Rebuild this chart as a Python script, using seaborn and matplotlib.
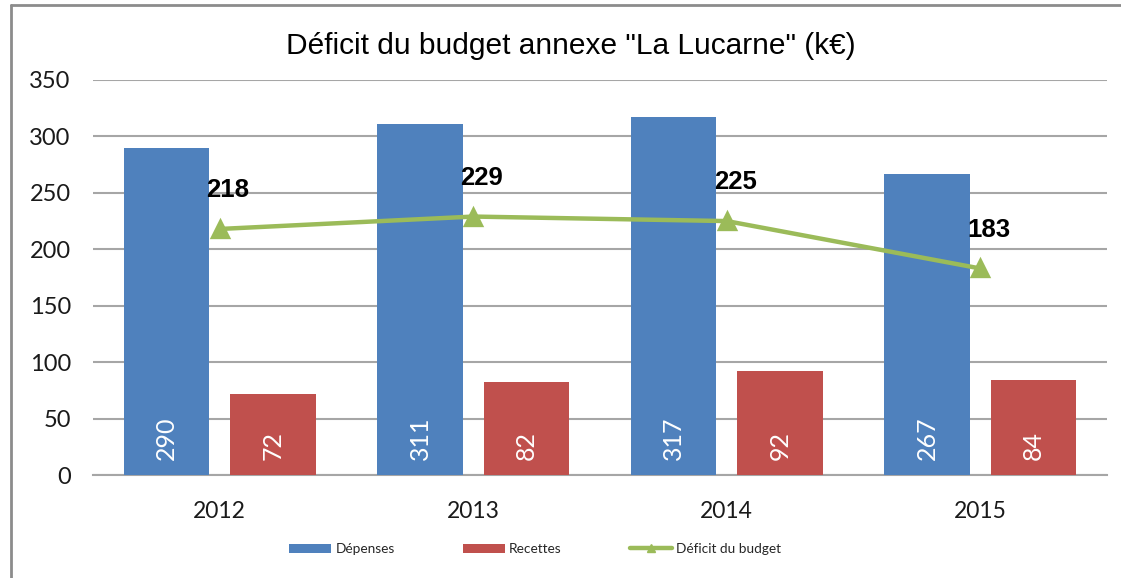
import matplotlib
matplotlib.use("Agg")
import matplotlib.pyplot as plt
import seaborn as sns
import pandas as pd
from matplotlib.lines import Line2D
from matplotlib.patches import Patch

years = ["2012", "2013", "2014", "2015"]
depenses = [290, 311, 317, 267]
recettes = [72, 82, 92, 84]
deficit = [218, 229, 225, 183]
series_names = ["Dépenses", "Recettes", "Déficit du budget"]
yticks = [0, 50, 100, 150, 200, 250, 300, 350]

blue = "#4F81BD"
red = "#C0504D"
green = "#9BBB59"
grid = "#A6A6A6"

sns.set_theme(style="white")
plt.rcParams["font.family"] = ["Lato", "DejaVu Sans"]

df = pd.DataFrame({
    "year": years * 2,
    "value": depenses + recettes,
    "serie": [series_names[0]] * 4 + [series_names[1]] * 4,
})

fig = plt.figure(figsize=(11.21, 5.78), dpi=100)
ax = fig.add_axes([93 / 1121, 1 - 475 / 578, (1107 - 93) / 1121, (475 - 80) / 578])

sns.barplot(data=df, x="year", y="value", hue="serie", order=years,
            hue_order=series_names[:2], palette=[blue, red],
            width=0.84, gap=0.2, saturation=1, legend=False, ax=ax,
            edgecolor="none", linewidth=0, zorder=3)

sns.pointplot(x=years, y=deficit, order=years, color=green, markers="^",
              markersize=11, linewidth=3.2, ax=ax, zorder=5)

# bar labels (white, rotated, inside base)
for cont in ax.containers:
    for rect, v in zip(cont.patches, cont.datavalues):
        ax.annotate(f"{int(v)}", (rect.get_x() + rect.get_width() / 2, 0),
                    xytext=(0, 11), textcoords="offset points",
                    rotation=90, ha="center", va="bottom",
                    color="white", fontsize=18, zorder=6)

# deficit labels
for i, v in enumerate(deficit):
    ax.annotate(f"{v}", (i, v), xytext=(6, 28), textcoords="offset points",
                ha="center", va="center", fontsize=18.5, fontweight="bold",
                family=["Liberation Sans", "DejaVu Sans"], color="black", zorder=7)

ax.set_ylim(0, 350)
ax.set_xlim(-0.5, 3.5)
ax.set_yticks(yticks)
ax.set_yticklabels([str(t) for t in yticks])
ax.yaxis.grid(True, color=grid, linewidth=1.5, zorder=0)
ax.set_axisbelow(True)
for s in ["left", "right", "top"]:
    ax.spines[s].set_visible(False)
ax.spines["bottom"].set_color(grid)
ax.spines["bottom"].set_linewidth(1.5)
ax.tick_params(axis="y", length=0, pad=16, labelsize=17, labelcolor="#1a1a1a")
ax.tick_params(axis="x", length=0, pad=19, labelsize=16.5, labelcolor="#1a1a1a")
ax.set_xlabel("")
ax.set_ylabel("")

fig.text(571 / 1121, 1 - 46 / 578, 'Déficit du budget annexe "La Lucarne" (k€)',
         ha="center", va="center", fontsize=21.5,
         family=["Liberation Sans", "DejaVu Sans"], color="black")

handles = [Patch(facecolor=blue, edgecolor="none"),
           Patch(facecolor=red, edgecolor="none"),
           Line2D([0], [0], color=green, lw=3.2, marker="^", markersize=6)]
fig.legend(handles, series_names, loc="center", bbox_to_anchor=(535 / 1121, 1 - 549 / 578),
           ncol=3, frameon=False, fontsize=9.8, handlelength=3.1, handleheight=0.6,
           handletextpad=0.3, columnspacing=5.0)

# outer frame (top and left visible)
fig.add_artist(Line2D([10.5 / 1121, 10.5 / 1121], [0, 1 - 4.5 / 578],
                      transform=fig.transFigure, color="#8C8C8C", lw=2))
fig.add_artist(Line2D([10.5 / 1121, 1], [1 - 4.5 / 578, 1 - 4.5 / 578],
                      transform=fig.transFigure, color="#8C8C8C", lw=2))

fig.savefig("out.png", dpi=100, facecolor="white")
